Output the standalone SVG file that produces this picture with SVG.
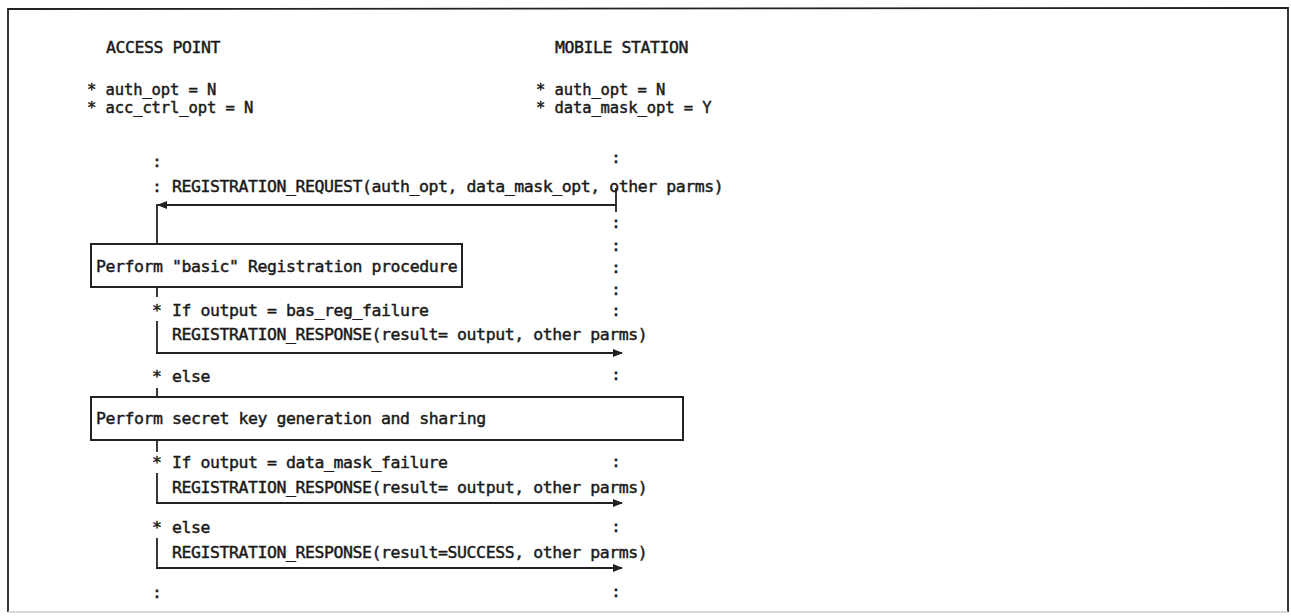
<svg xmlns="http://www.w3.org/2000/svg" width="1291" height="616" viewBox="0 0 1291 616">
<style>
text{font-family:"DejaVu Sans Mono","Liberation Mono",monospace;font-size:16.5px;letter-spacing:-0.43px;fill:#1a1a1a;stroke:#1a1a1a;stroke-width:0.45}
.c{text-anchor:middle;letter-spacing:0}
.s{font-size:15.5px;letter-spacing:-0.1px}
.ln{stroke:#222;stroke-width:1.8;fill:none}
.bx{stroke:#222;stroke-width:2;fill:#fff}
</style>
<defs>
<marker id="ah" viewBox="0 0 10 8" refX="9" refY="4" markerWidth="10" markerHeight="8" markerUnits="userSpaceOnUse" orient="auto">
<path d="M0,0 L10,4 L0,8 z" fill="#222"/>
</marker>
</defs>
<rect x="0" y="0" width="1291" height="616" fill="#fff"/>
<g id="frame">
<path class="ln" d="M8,612 L8,9 L1288,8 L1288,612"/>
<line x1="8" y1="612" x2="1288" y2="612" stroke="#ccc" stroke-width="1.5"/>
</g>
<g id="access-point">
<text x="106" y="53">ACCESS POINT</text>
<text class="s" x="87" y="95">* auth_opt = N</text>
<text class="s" x="87" y="113">* acc_ctrl_opt = N</text>
</g>
<g id="mobile-station">
<text x="555" y="53">MOBILE STATION</text>
<text class="s" x="536" y="95">* auth_opt = N</text>
<text class="s" x="536" y="113">* data_mask_opt = Y</text>
</g>
<g id="lifeline-ap">
<text class="c" x="157" y="167">:</text>
<text class="c" x="157" y="192">:</text>
<text class="c" x="157" y="316">*</text>
<text class="c" x="157" y="382">*</text>
<text class="c" x="157" y="468">*</text>
<text class="c" x="157" y="533">*</text>
<text class="c" x="157" y="598">:</text>
</g>
<g id="lifeline-ms">
<text class="c" x="616" y="163">:</text>
<text class="c" x="616" y="228">:</text>
<text class="c" x="616" y="251">:</text>
<text class="c" x="616" y="273">:</text>
<text class="c" x="616" y="295">:</text>
<text class="c" x="616" y="316">:</text>
<text class="c" x="616" y="380">:</text>
<text class="c" x="616" y="467">:</text>
<text class="c" x="616" y="532">:</text>
<text class="c" x="616" y="597">:</text>
</g>
<g id="labels">
<text x="172" y="192">REGISTRATION_REQUEST(auth_opt, data_mask_opt, other parms)</text>
<text x="172" y="316">If output = bas_reg_failure</text>
<text x="172" y="340">REGISTRATION_RESPONSE(result= output, other parms)</text>
<text x="172" y="382">else</text>
<text x="172" y="468">If output = data_mask_failure</text>
<text x="172" y="493">REGISTRATION_RESPONSE(result= output, other parms)</text>
<text x="172" y="533">else</text>
<text x="172" y="558">REGISTRATION_RESPONSE(result=SUCCESS, other parms)</text>
</g>
<g id="connectors">
<line class="ln" x1="616" y1="188" x2="616" y2="212"/>
<line class="ln" x1="616" y1="205" x2="158" y2="205" marker-end="url(#ah)"/>
<line class="ln" x1="157" y1="204" x2="157" y2="245"/>
<line class="ln" x1="157" y1="287" x2="157" y2="297"/>
<line class="ln" x1="157" y1="321" x2="157" y2="353"/>
<line class="ln" x1="156" y1="353" x2="622" y2="353" marker-end="url(#ah)"/>
<line class="ln" x1="157" y1="388" x2="157" y2="397"/>
<line class="ln" x1="157" y1="440" x2="157" y2="452"/>
<line class="ln" x1="157" y1="473" x2="157" y2="503"/>
<line class="ln" x1="156" y1="503" x2="622" y2="503" marker-end="url(#ah)"/>
<line class="ln" x1="157" y1="538" x2="157" y2="568"/>
<line class="ln" x1="156" y1="568" x2="622" y2="568" marker-end="url(#ah)"/>
</g>
<g id="box-basic-registration">
<rect class="bx" x="91" y="244" width="371" height="43"/>
<text x="96" y="272">Perform "basic" Registration procedure</text>
</g>
<g id="box-secret-key">
<rect class="bx" x="91" y="397" width="592" height="43"/>
<text x="96" y="424">Perform secret key generation and sharing</text>
</g>
</svg>
